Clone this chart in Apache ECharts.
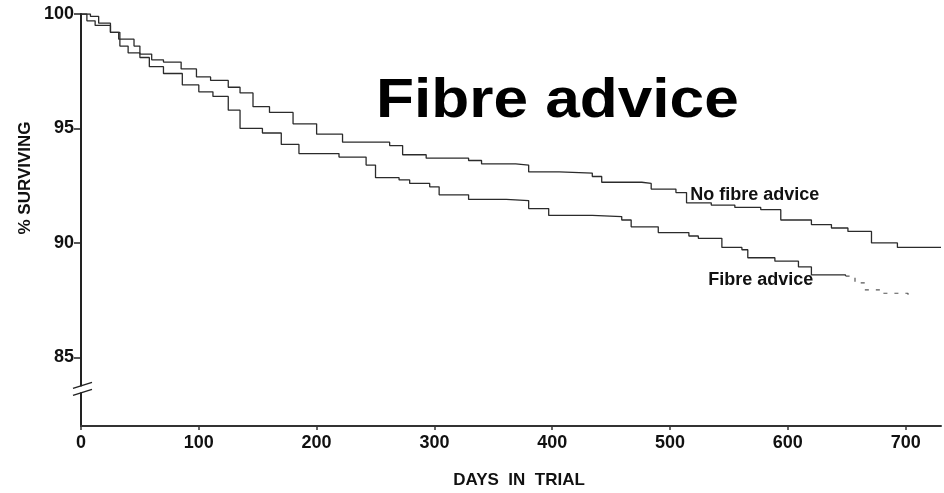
<!DOCTYPE html>
<html>
<head>
<meta charset="utf-8">
<script src="https://cdn.jsdelivr.net/npm/echarts@6/dist/echarts.min.js"></script>
<style>
  html, body { margin: 0; padding: 0; background: #fff; }
  #main { width: 944px; height: 493px; }
</style>
</head>
<body>
<div id="main"></div>
<script>
// Kaplan-Meier style survival
var noFibreDays = [0, 8, 15, 25, 32, 45, 50, 60, 70, 85, 98, 110, 125, 135, 146, 160, 180, 200, 222, 262, 273, 293, 329, 340, 369, 380, 406, 434, 442, 476, 484, 505, 514, 535, 555, 577, 594, 620, 637, 651, 671, 693, 730]
var noFibreVals = [100, 99.9, 99.6, 99.2, 98.9, 98.6, 98.25, 98.0, 97.9, 97.6, 97.25, 97.1, 96.8, 96.55, 95.95, 95.7, 95.2, 94.75, 94.4, 94.25, 93.85, 93.7, 93.6, 93.45, 93.4, 93.1, 93.05, 92.9, 92.65, 92.6, 92.35, 92.2, 91.75, 91.65, 91.55, 91.45, 91.0, 90.8, 90.65, 90.5, 90.0, 89.8, 89.8]

var fibreDays = [0, 5, 12, 25, 33, 40, 50, 58, 70, 86, 100, 112, 125, 135, 154, 170, 185, 219, 242, 250, 270, 279, 296, 304, 329, 361, 380, 397, 434, 459, 467, 490, 516, 524, 544, 561, 566, 589, 609, 620, 649]
var fibreVals = [100, 99.7, 99.5, 99.2, 98.6, 98.3, 98.1, 97.7, 97.4, 96.9, 96.6, 96.4, 95.8, 95.0, 94.8, 94.3, 93.9, 93.75, 93.4, 92.85, 92.75, 92.6, 92.45, 92.1, 91.9, 91.85, 91.5, 91.2, 91.15, 91.0, 90.7, 90.45, 90.3, 90.2, 89.8, 89.7, 89.35, 89.2, 88.95, 88.6, 88.55]
// faint dotted tail of the fibre advice curve
var fibreTailDays = [649, 657, 665, 679, 702]
var fibreTailVals = [88.55, 88.25, 87.95, 87.8, 87.5]

var xTicks = [0, 100, 200, 300, 400, 500, 600, 700]
var yTicks = [85, 90, 95, 100]

// curve labels, placed in data coordinates
var curveLabels = ['No fibre advice', 'Fibre advice']
var labelDays = [572, 577]
var labelVals = [92.1, 88.38]

function pairs(xs, ys) {
  return xs.map(function (x, i) { return [x, ys[i]] })
}

var font = "'Liberation Sans', Arial, sans-serif"
var lineCol = '#2b2b2b'

var chart = echarts.init(document.getElementById('main'))
var option = {
  animation: false,
  backgroundColor: '#fff',
  grid: { left: 81, right: 3, top: 14, bottom: 67 },
  xAxis: {
    type: 'value',
    min: 0,
    max: 730,
    axisLine: { lineStyle: { color: '#333', width: 2 } },
    axisTick: { show: true, length: 4, customValues: xTicks, lineStyle: { color: '#333', width: 1.5 } },
    axisLabel: { customValues: xTicks, margin: 8, fontFamily: font, fontSize: 18, fontWeight: 'bold', color: '#111' },
    splitLine: { show: false }
  },
  yAxis: {
    type: 'value',
    min: 82,
    max: 100,
    axisLine: { show: true, lineStyle: { color: '#222', width: 2 } },
    axisTick: { show: true, length: 7, customValues: yTicks, lineStyle: { color: '#222', width: 1.5 } },
    axisLabel: { customValues: yTicks, margin: 7, fontFamily: font, fontSize: 18, fontWeight: 'bold', color: '#111' },
    splitLine: { show: false }
  },
  series: [
    {
      name: 'No fibre advice',
      type: 'line',
      step: 'end',
      showSymbol: false,
      data: pairs(noFibreDays, noFibreVals),
      lineStyle: { color: lineCol, width: 1.3 }
    },
    {
      name: 'Fibre advice',
      type: 'line',
      step: 'end',
      showSymbol: false,
      data: pairs(fibreDays, fibreVals),
      lineStyle: { color: lineCol, width: 1.3 }
    },
    {
      name: 'Fibre advice tail',
      type: 'line',
      step: 'end',
      showSymbol: false,
      data: pairs(fibreTailDays, fibreTailVals),
      lineStyle: { color: '#555', width: 1.2, type: [4, 7] }
    }
  ]
}
chart.setOption(option)

// axis break marks, titles and curve labels
var brk = chart.convertToPixel({ gridIndex: 0 }, [0, 83.6])
var graphics = [
  { type: 'rect', shape: { x: brk[0] - 3, y: brk[1] - 3, width: 6, height: 6 }, style: { fill: '#fff' }, z: 100 },
  { type: 'line', shape: { x1: brk[0] - 8, y1: brk[1] - 1, x2: brk[0] + 11, y2: brk[1] - 7 }, style: { stroke: '#222', lineWidth: 1.5 }, z: 101 },
  { type: 'line', shape: { x1: brk[0] - 8, y1: brk[1] + 6, x2: brk[0] + 11, y2: brk[1] }, style: { stroke: '#222', lineWidth: 1.5 }, z: 101 },
  {
    type: 'text', x: 376, y: 102, scaleX: 1.11,
    style: { text: 'Fibre advice', fontFamily: font, fontSize: 56, fontWeight: 'bold', fill: '#000', align: 'left', verticalAlign: 'middle' }
  },
  {
    type: 'text', x: 25, y: 178, rotation: Math.PI / 2,
    style: { text: '% SURVIVING', fontFamily: font, fontSize: 17, fontWeight: 'bold', fill: '#111', align: 'center', verticalAlign: 'middle' }
  },
  {
    type: 'text', x: 519, y: 480,
    style: { text: 'DAYS  IN  TRIAL', fontFamily: font, fontSize: 17, fontWeight: 'bold', fill: '#111', align: 'center', verticalAlign: 'middle' }
  }
]
curveLabels.forEach(function (t, i) {
  var p = chart.convertToPixel({ gridIndex: 0 }, [labelDays[i], labelVals[i]])
  graphics.push({
    type: 'text', x: p[0], y: p[1], z: 50,
    style: { text: t, fontFamily: font, fontSize: 18, fontWeight: 'bold', fill: '#111', align: 'center', verticalAlign: 'middle' }
  })
})
chart.setOption({ graphic: graphics })

window.addEventListener('resize', function () {
  chart.resize()
})
</script>
</body>
</html>
